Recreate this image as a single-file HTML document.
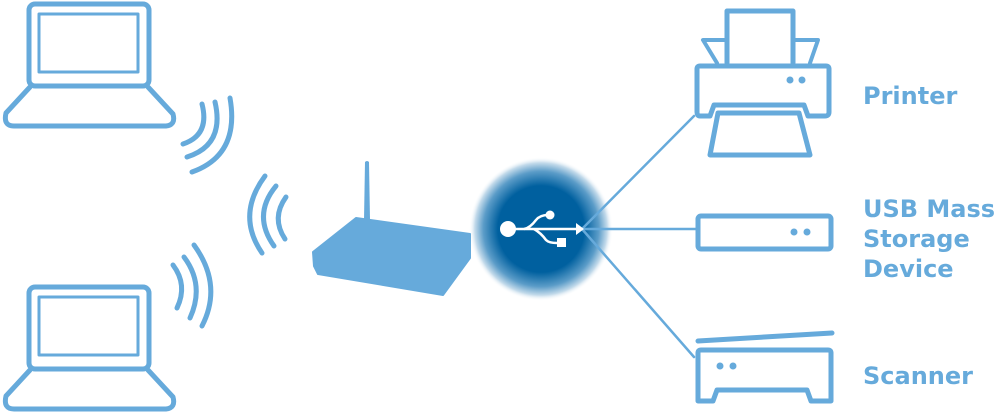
<!DOCTYPE html>
<html><head><meta charset="utf-8"><style>
html,body{margin:0;padding:0;background:#fff;width:1000px;height:412px;overflow:hidden}
</style></head><body>
<svg width="1000" height="412" viewBox="0 0 1000 412" xmlns="http://www.w3.org/2000/svg">
<defs>
<radialGradient id="g" cx="541" cy="229" r="72" gradientUnits="userSpaceOnUse">
<stop offset="0" stop-color="#00609f"/>
<stop offset="0.6" stop-color="#00609f"/>
<stop offset="0.8" stop-color="#5b9cc8"/>
<stop offset="0.92" stop-color="#c4dbeb"/>
<stop offset="1" stop-color="#ffffff" stop-opacity="0"/>
</radialGradient>
</defs>
<circle cx="541" cy="229" r="72" fill="url(#g)"/>
<g fill="none" stroke="#66aadb" stroke-width="5" stroke-linejoin="round" stroke-linecap="round">
<rect x="29" y="4" width="120" height="82" rx="6"/>
<rect x="39" y="14" width="99" height="58" stroke-width="3"/>
<path d="M30 87 L6 113 Q3 126 14 126 L166 126 Q176 125 173 114 L148 87"/>
<g transform="translate(0,283)">
<rect x="29" y="4" width="120" height="82" rx="6"/>
<rect x="39" y="14" width="99" height="58" stroke-width="3"/>
<path d="M30 87 L6 113 Q3 126 14 126 L166 126 Q176 125 173 114 L148 87"/>
</g>
<path d="M202 104 Q210 135 183 144"/>
<path d="M215 102 Q225 145 187 157"/>
<path d="M230 98 Q240 155 192 172"/>
<path d="M265 176 Q236 215 262 253"/>
<path d="M276 186 Q252 215 274 246"/>
<path d="M286 197 Q271 218 285 239"/>
<path d="M173 265 Q188 285 177 308"/>
<path d="M184 257 Q205 285 190 318"/>
<path d="M194 245 Q223 285 202 326"/>
<g stroke-width="2.5">
<line x1="582" y1="229" x2="694" y2="116"/>
<line x1="582" y1="229" x2="697" y2="229"/>
<line x1="582" y1="229" x2="694" y2="357"/>
</g>
<path d="M727 63 V11 H793 V63" stroke-width="5"/>
<path d="M717 63 L703 40 H727 M793 40 H818 L810 63" stroke-width="4"/>
<path d="M697 69 Q697 66 700 66 H826 Q829 66 829 69 V112 Q829 116 825 116 H808 L804 105 H714 L710 116 H700 Q697 116 697 112 Z"/>
<path d="M718 113 H799 L810 155 H710 Z"/>
<rect x="698" y="216" width="133" height="33" rx="3"/>
<path d="M698 341 L832 333" stroke-width="5"/>
<path d="M698 353 Q698 350 701 350 H828 Q831 350 831 353 V401 H811 L807 390 H717 L713 401 H698 Z"/>
</g>
<g fill="#66aadb">
<circle cx="790" cy="80" r="3.5"/><circle cx="802" cy="80" r="3.5"/>
<circle cx="794" cy="232" r="3.5"/><circle cx="807" cy="232" r="3.5"/>
<circle cx="720" cy="366" r="3.5"/><circle cx="733" cy="366" r="3.5"/>
<path d="M365 162 Q367 160 369 162 L370 220 L364 220 Z"/>
<path d="M356 218 L470 234 L470 258 L443 295 L318 274 L314 266 L313 252 Z" stroke="#66aadb" stroke-width="2" stroke-linejoin="round"/>
</g>
<g fill="#fff" stroke="#fff">
<circle cx="508" cy="229" r="8" stroke="none"/>
<line x1="510" y1="229" x2="576" y2="229" stroke-width="2.5"/>
<path d="M576 223 L584 229 L576 235 Z" stroke="none"/>
<path d="M524 229 Q530 228 536 220 Q540 215 548 215" fill="none" stroke-width="2.5"/>
<circle cx="550" cy="215" r="4.5" stroke="none"/>
<path d="M534 229 Q541 233 546 240 Q549 243 557 243" fill="none" stroke-width="2.5"/>
<rect x="557" y="238" width="9" height="9" stroke="none"/>
</g>
<g font-family="DejaVu Sans, sans-serif" font-weight="bold" font-size="24" fill="#66aadb">
<text x="863" y="104">Printer</text>
<text x="863" y="217">USB Mass</text>
<text x="863" y="247">Storage</text>
<text x="863" y="277">Device</text>
<text x="863" y="384">Scanner</text>
</g>
</svg>
</body></html>
